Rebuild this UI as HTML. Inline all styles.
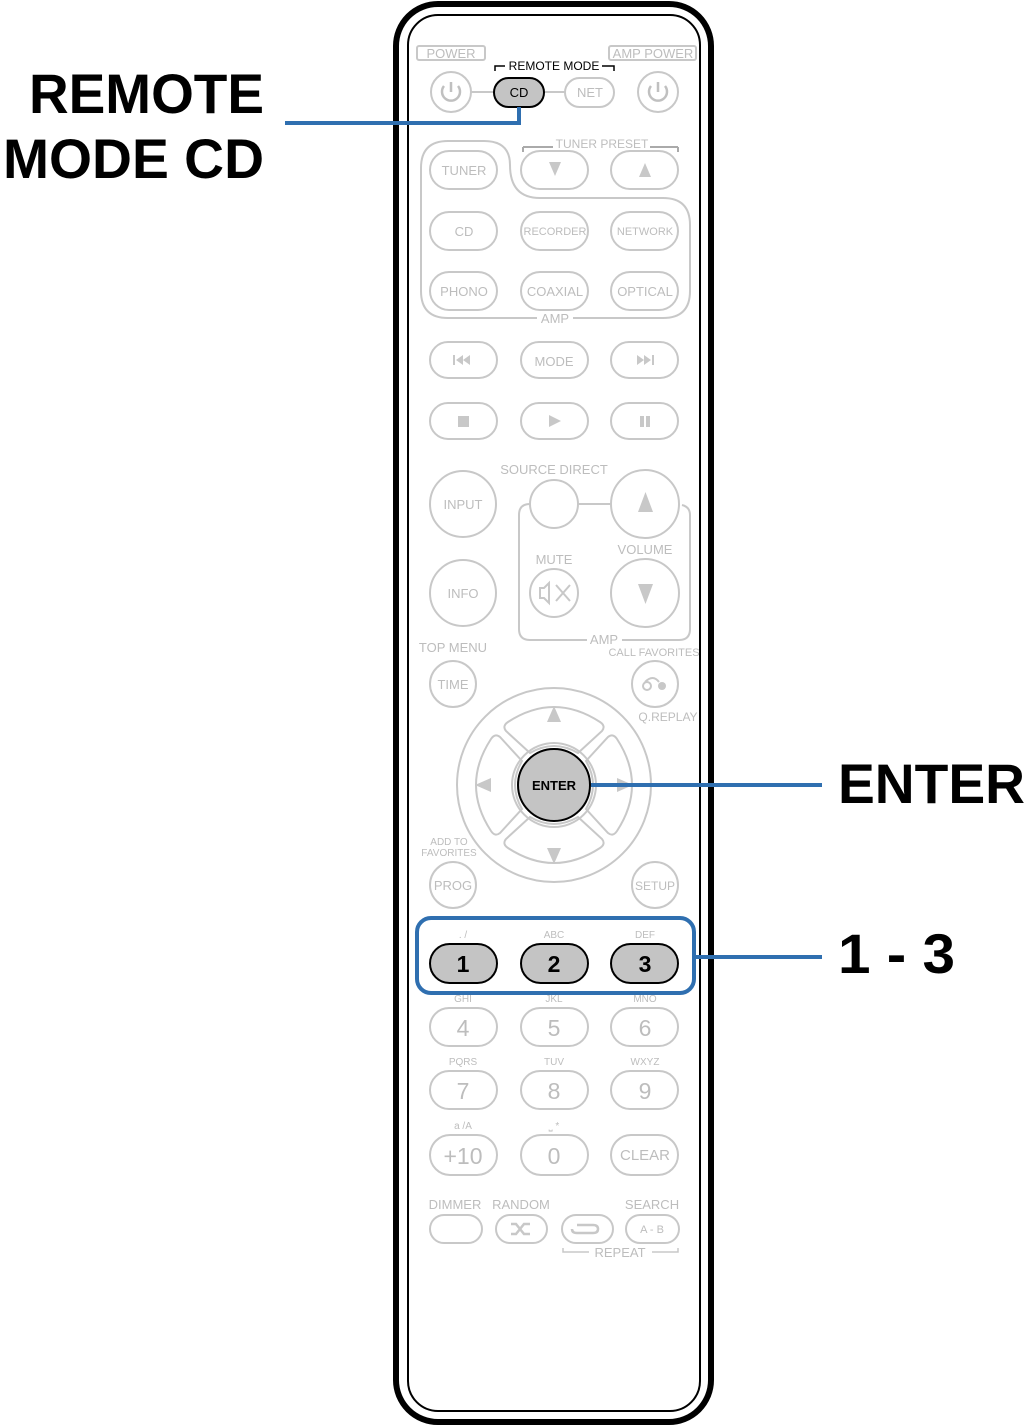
<!DOCTYPE html>
<html><head><meta charset="utf-8"><style>html,body{margin:0;padding:0;background:#fff}svg{display:block}</style></head>
<body>
<svg width="1027" height="1427" viewBox="0 0 1027 1427" xmlns="http://www.w3.org/2000/svg" font-family="Liberation Sans, sans-serif">
<rect x="396" y="4" width="315" height="1418" rx="42" fill="#fff" stroke="#000" stroke-width="6"/>
<rect x="408" y="15" width="292" height="1396" rx="30" fill="none" stroke="#000" stroke-width="2"/>
<g fill="none" stroke="#c8c8c8" stroke-width="2">
<rect x="417" y="46" width="68" height="14" rx="2"/>
<rect x="609" y="46" width="87" height="14" rx="2"/>
<line x1="471" y1="92" x2="494" y2="92"/><line x1="544" y1="92" x2="565" y2="92"/>
<circle cx="451" cy="92" r="20"/>
<rect x="565" y="78" width="49" height="29" rx="14.5"/>
<circle cx="658" cy="92" r="20"/>
<path d="M523,147 h30 M650,147 h28 M523,147 v5 M678,147 v5" stroke="#aaa"/>
<path d="M537,318 H448 Q421,318 421,291 V168 Q421,141 448,141 H484 Q510,141 510,165 Q510,198 540,198 H663 Q690,198 690,225 V291 Q690,318 663,318 H573"/>
<rect x="430" y="151" width="67" height="38" rx="19"/>
<rect x="521" y="151" width="67" height="38" rx="19"/>
<rect x="611" y="151" width="67" height="38" rx="19"/>
<rect x="430" y="212" width="67" height="38" rx="19"/>
<rect x="521" y="212" width="67" height="38" rx="19"/>
<rect x="611" y="212" width="67" height="38" rx="19"/>
<rect x="430" y="272" width="67" height="38" rx="19"/>
<rect x="521" y="272" width="67" height="38" rx="19"/>
<rect x="611" y="272" width="67" height="38" rx="19"/>
<rect x="430" y="342" width="67" height="36" rx="18"/>
<rect x="521" y="342" width="67" height="36" rx="18"/>
<rect x="611" y="342" width="67" height="36" rx="18"/>
<rect x="430" y="403" width="67" height="36" rx="18"/>
<rect x="521" y="403" width="67" height="36" rx="18"/>
<rect x="611" y="403" width="67" height="36" rx="18"/>
<circle cx="463" cy="504" r="33"/>
<circle cx="554" cy="504" r="24"/>
<line x1="578" y1="504" x2="611" y2="504"/>
<circle cx="645" cy="504" r="34"/>
<path d="M530,504 q-11,0 -11,11 v114 q0,11 11,11 h57 M622,640 h57 q11,0 11,-11 v-114 q0,-8 -8,-10"/>
<circle cx="554" cy="593" r="24"/>
<circle cx="645" cy="593" r="34"/>
<circle cx="463" cy="593" r="33"/>
<circle cx="453" cy="684" r="23"/>
<circle cx="655" cy="684" r="23"/>
<circle cx="554" cy="785" r="97"/>
<circle cx="554" cy="785" r="42"/>
<path d="M508,722 q46,-30 92,0 q6,4 2,9 l-24,22 q-24,-14 -48,0 l-24,-22 q-4,-5 2,-9z"/>
<path d="M508,848 q46,30 92,0 q6,-4 2,-9 l-24,-22 q-24,14 -48,0 l-24,22 q-4,5 2,9z"/>
<path d="M491,739 q-30,46 0,92 q4,6 9,2 l22,-24 q-14,-24 0,-48 l-22,-24 q-5,-4 -9,2z"/>
<path d="M617,739 q30,46 0,92 q-4,6 -9,2 l-22,-24 q14,-24 0,-48 l22,-24 q5,-4 9,2z"/>
<circle cx="453" cy="885" r="23"/>
<circle cx="655" cy="885" r="23"/>
<rect x="430" y="1008" width="67" height="38" rx="19"/>
<rect x="521" y="1008" width="67" height="38" rx="19"/>
<rect x="611" y="1008" width="67" height="38" rx="19"/>
<rect x="430" y="1071" width="67" height="38" rx="19"/>
<rect x="521" y="1071" width="67" height="38" rx="19"/>
<rect x="611" y="1071" width="67" height="38" rx="19"/>
<rect x="430" y="1135" width="67" height="40" rx="20"/>
<rect x="521" y="1135" width="67" height="40" rx="20"/>
<rect x="611" y="1135" width="67" height="40" rx="20"/>
<rect x="430" y="1215" width="52" height="28" rx="14"/>
<rect x="496" y="1215" width="51" height="28" rx="14"/>
<rect x="562" y="1215" width="51" height="28" rx="14"/>
<rect x="626" y="1215" width="53" height="28" rx="14"/>
<path d="M563,1248 v4 h26 M652,1252 h26 v-4" stroke-width="1.5"/>
<path d="M577,1225 h16 q5,0 5,4 q0,4 -5,4 h-16 q-5,0 -5,-4" stroke-width="2.5"/>
<path d="M511,1224 h5 l8,10 h6 M511,1234 h5 l8,-10 h6" stroke-width="2.5"/>
<path d="M540,588 h4 l5,-5 v20 l-5,-5 h-4 z"/>
<path d="M556,585 l14,16 M570,585 l-14,16"/>
</g>
<g stroke="#c0c0c0" stroke-width="2.5" fill="none">
<path d="M444,86 a9,9 0 1 0 14,0 M451,82 v10"/>
<path d="M651,86 a9,9 0 1 0 14,0 M658,82 v10"/>
</g>
<path d="M495,71 v-5 h10 M602,66 h12 v5" stroke="#000" stroke-width="1.5" fill="none"/>
<rect x="494" y="78" width="50" height="29" rx="14.5" fill="#c4c4c4" stroke="#000" stroke-width="2"/>
<circle cx="554" cy="785" r="36" fill="#c4c4c4" stroke="#000" stroke-width="2"/>
<g fill="#c8c8c8">
<path d="M549,162 h12 l-6,14z"/><path d="M639,177 h12 l-6,-14z"/>
<path d="M453,355 v10 h2 v-10z M456,360 l7,-5 v10z M463,360 l7,-5 v10z"/>
<path d="M637,355 l7,5 -7,5z M644,355 l7,5 -7,5z M652,355 h2 v10 h-2z"/>
<rect x="458" y="416" width="11" height="11"/>
<path d="M549,415 l12,6 -12,6z"/>
<rect x="640" y="416" width="4" height="11"/><rect x="646" y="416" width="4" height="11"/>
<path d="M638,512 h15 l-7.5,-20z"/><path d="M638,584 h15 l-7.5,20z"/>
<path d="M547,722 h14 l-7,-16z"/><path d="M547,848 h14 l-7,16z"/>
<path d="M491,778 v14 l-16,-7z"/><path d="M617,778 v14 l16,-7z"/>
<circle cx="662" cy="686" r="4"/>
</g>
<circle cx="647" cy="686" r="4" fill="none" stroke="#c8c8c8" stroke-width="2"/>
<path d="M645,682 q8,-8 14,0" fill="none" stroke="#c8c8c8" stroke-width="2"/>
<g fill="#bdbdbd" text-anchor="middle" font-size="13">
<text x="451" y="58">POWER</text>
<text x="653" y="58">AMP POWER</text>
<text x="590" y="97">NET</text>
<text x="602" y="148" font-size="12">TUNER PRESET</text>
<text x="464" y="175">TUNER</text>
<text x="464" y="236">CD</text>
<text x="555" y="235" font-size="11">RECORDER</text>
<text x="645" y="235" font-size="11">NETWORK</text>
<text x="464" y="296">PHONO</text>
<text x="555" y="296">COAXIAL</text>
<text x="645" y="296">OPTICAL</text>
<text x="555" y="323">AMP</text>
<text x="554" y="366">MODE</text>
<text x="554" y="474">SOURCE DIRECT</text>
<text x="463" y="509">INPUT</text>
<text x="645" y="554">VOLUME</text>
<text x="554" y="564">MUTE</text>
<text x="463" y="598">INFO</text>
<text x="604" y="644">AMP</text>
<text x="453" y="652">TOP MENU</text>
<text x="654" y="656" font-size="11">CALL FAVORITES</text>
<text x="453" y="689">TIME</text>
<text x="668" y="721" font-size="12">Q.REPLAY</text>
<text x="449" y="845" font-size="10">ADD TO</text>
<text x="449" y="856" font-size="10">FAVORITES</text>
<text x="453" y="890">PROG</text>
<text x="655" y="890" font-size="12">SETUP</text>
<text x="463" y="938" font-size="10">. /</text>
<text x="554" y="938" font-size="10">ABC</text>
<text x="645" y="938" font-size="10">DEF</text>
<text x="463" y="1002" font-size="10">GHI</text>
<text x="554" y="1002" font-size="10">JKL</text>
<text x="645" y="1002" font-size="10">MNO</text>
<text x="463" y="1065" font-size="10">PQRS</text>
<text x="554" y="1065" font-size="10">TUV</text>
<text x="645" y="1065" font-size="10">WXYZ</text>
<text x="463" y="1129" font-size="10">a /A</text>
<text x="554" y="1129" font-size="10">⎵ *</text>
<g font-size="23"><text x="463" y="1036">4</text><text x="554" y="1036">5</text><text x="645" y="1036">6</text>
<text x="463" y="1099">7</text><text x="554" y="1099">8</text><text x="645" y="1099">9</text>
<text x="463" y="1164">+10</text><text x="554" y="1164">0</text></g>
<text x="645" y="1160" font-size="15">CLEAR</text>
<text x="455" y="1209">DIMMER</text>
<text x="521" y="1209">RANDOM</text>
<text x="652" y="1209">SEARCH</text>
<text x="652" y="1233" font-size="11">A - B</text>
<text x="620" y="1257">REPEAT</text>
</g>
<g fill="#000" text-anchor="middle">
<text x="554" y="70" font-size="12">REMOTE MODE</text>
<text x="519" y="97" font-size="13">CD</text>
<text x="554" y="790" font-size="13" font-weight="bold">ENTER</text>
</g>
<g fill="none" stroke="#000" stroke-width="2">
<rect x="430" y="944" width="67" height="39" rx="19.5" fill="#c4c4c4"/>
<rect x="521" y="944" width="67" height="39" rx="19.5" fill="#c4c4c4"/>
<rect x="611" y="944" width="67" height="39" rx="19.5" fill="#c4c4c4"/>
</g>
<g fill="#000" text-anchor="middle" font-size="23" font-weight="bold">
<text x="463" y="972">1</text><text x="554" y="972">2</text><text x="645" y="972">3</text>
</g>
<g stroke="#2f6fb0" stroke-width="4" fill="none">
<path d="M285,123 H519 V107"/>
<line x1="591" y1="785" x2="822" y2="785"/>
<rect x="417" y="918" width="277" height="75" rx="14"/>
<line x1="694" y1="957" x2="822" y2="957"/>
</g>
<g fill="#000" font-weight="bold" font-size="56" text-anchor="end">
<text x="264" y="113" textLength="235" lengthAdjust="spacingAndGlyphs">REMOTE</text>
<text x="264" y="178" textLength="261" lengthAdjust="spacingAndGlyphs">MODE CD</text>
</g>
<g fill="#000" font-weight="bold" font-size="56">
<text x="838" y="803" textLength="187" lengthAdjust="spacingAndGlyphs">ENTER</text>
<text x="838" y="973" textLength="117" lengthAdjust="spacingAndGlyphs">1 - 3</text>
</g>
</svg>
</body></html>
